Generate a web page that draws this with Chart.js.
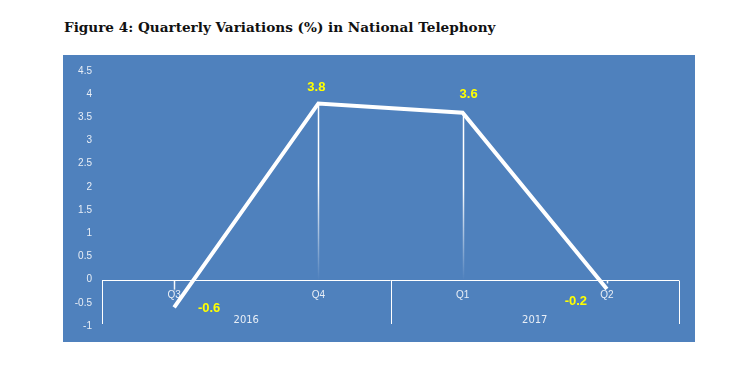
<!DOCTYPE html>
<html>
<head>
<meta charset="utf-8">
<script src="https://cdn.jsdelivr.net/npm/chart.js@4"></script>
<style>
  html, body { margin: 0; padding: 0; background: #fff; width: 756px; height: 372px; overflow: hidden; }
  #title { position: absolute; left: 64px; top: 19px; font-family: "DejaVu Serif", serif; font-weight: bold; font-size: 13.6px; color: #111; white-space: nowrap; letter-spacing: 0; }
  #box { position: absolute; left: 63px; top: 55px; width: 632px; height: 287px; background: #4F81BD; }
</style>
</head>
<body>
<div id="title">Figure 4: Quarterly Variations (%) in National Telephony</div>
<div id="box"><canvas id="c" width="632" height="287"></canvas></div>
<script>
const quarters = ["Q3", "Q4", "Q1", "Q2"];
const years = ["2016", "2017"];
const quartersPerYear = [2, 2];
const variations = [-0.6, 3.8, 3.6, -0.2];
const valueLabels = ["-0.6", "3.8", "3.6", "-0.2"];
const yTickMin = -1, yTickMax = 4.5, yTickStep = 0.5;

// label placement offsets (styling only)
const labelOffsets = [[35, 1], [-2, -16], [6, -18], [-31, 13]];

const axisPlugin = {
  id: 'customAxis',
  beforeDatasetsDraw(chart) {
    const ctx = chart.ctx, x = chart.scales.x, y = chart.scales.y, a = chart.chartArea;
    const y0 = Math.round(y.getPixelForValue(0)) + 0.5;
    ctx.save();
    const meta = chart.getDatasetMeta(0);
    meta.data.forEach((pt, i) => {
      const px = Math.round(pt.x) + 0.5;
      const v = variations[i];
      if (v > 0) {
        const g = ctx.createLinearGradient(0, pt.y, 0, y0);
        g.addColorStop(0, 'rgba(255,255,255,1)');
        g.addColorStop(0.45, 'rgba(255,255,255,1)');
        g.addColorStop(1, 'rgba(255,255,255,0)');
        ctx.strokeStyle = g;
        ctx.lineWidth = 1.5;
        ctx.beginPath(); ctx.moveTo(px, pt.y); ctx.lineTo(px, y0); ctx.stroke();
      } else {
        const g = ctx.createLinearGradient(0, y0, 0, pt.y);
        g.addColorStop(0, 'rgba(255,255,255,1)');
        g.addColorStop(0.3, 'rgba(255,255,255,0.9)');
        g.addColorStop(0.4, 'rgba(255,255,255,0)');
        ctx.strokeStyle = g;
        ctx.lineWidth = 1.5;
        ctx.beginPath(); ctx.moveTo(px, y0); ctx.lineTo(px, pt.y); ctx.stroke();
      }
    });
    ctx.strokeStyle = '#ffffff';
    ctx.lineWidth = 1;
    ctx.beginPath(); ctx.moveTo(a.left, y0); ctx.lineTo(a.right, y0); ctx.stroke();
    const step = (a.right - a.left) / quarters.length;
    let idx = 0;
    const seps = [0];
    quartersPerYear.forEach(n => { idx += n; seps.push(idx); });
    const bottom = a.bottom - 2;
    seps.forEach(s => {
      const sx = Math.round(a.left + s * step) + 0.5;
      ctx.beginPath(); ctx.moveTo(sx, y0); ctx.lineTo(sx, bottom); ctx.stroke();
    });
    ctx.fillStyle = '#e8eef6';
    ctx.font = '10px "Liberation Sans", Arial, sans-serif';
    ctx.textAlign = 'center';
    ctx.textBaseline = 'middle';
    quarters.forEach((q, i) => {
      ctx.fillText(q, x.getPixelForValue(i), y0 + 15);
    });
    ctx.font = '10px "DejaVu Sans", sans-serif';
    years.forEach((yr, j) => {
      const cx = a.left + (seps[j] + seps[j + 1]) / 2 * step;
      ctx.fillText(yr, cx, y0 + 40);
    });
    ctx.restore();
  },
  afterDatasetsDraw(chart) {
    const ctx = chart.ctx;
    const meta = chart.getDatasetMeta(0);
    ctx.save();
    ctx.fillStyle = '#FFFF00';
    ctx.font = 'bold 13px "Liberation Sans", Arial, sans-serif';
    ctx.textAlign = 'center';
    ctx.textBaseline = 'middle';
    meta.data.forEach((pt, i) => {
      ctx.fillText(valueLabels[i], pt.x + labelOffsets[i][0], pt.y + labelOffsets[i][1]);
    });
    ctx.restore();
  }
};

new Chart(document.getElementById('c'), {
  type: 'line',
  data: {
    labels: quarters,
    datasets: [{
      data: variations,
      borderColor: '#ffffff',
      borderWidth: 4,
      pointRadius: 0,
      tension: 0,
      fill: false
    }]
  },
  options: {
    responsive: false,
    animation: false,
    layout: { padding: { left: 0, right: 16, top: 13, bottom: 15 } },
    plugins: { legend: { display: false }, tooltip: { enabled: false }, title: { display: false } },
    scales: {
      x: { type: 'category', offset: true, display: false },
      y: {
        min: yTickMin, max: yTickMax,
        afterFit(scale) { scale.width = 39; },
        grid: { display: false, drawTicks: false },
        border: { display: false },
        ticks: {
          stepSize: yTickStep,
          padding: 10,
          color: '#e8eef6',
          font: { family: '"Liberation Sans", Arial, sans-serif', size: 10 },
          callback: (v) => String(Math.round(v * 10) / 10)
        }
      }
    }
  },
  plugins: [axisPlugin]
});
</script>
</body>
</html>
